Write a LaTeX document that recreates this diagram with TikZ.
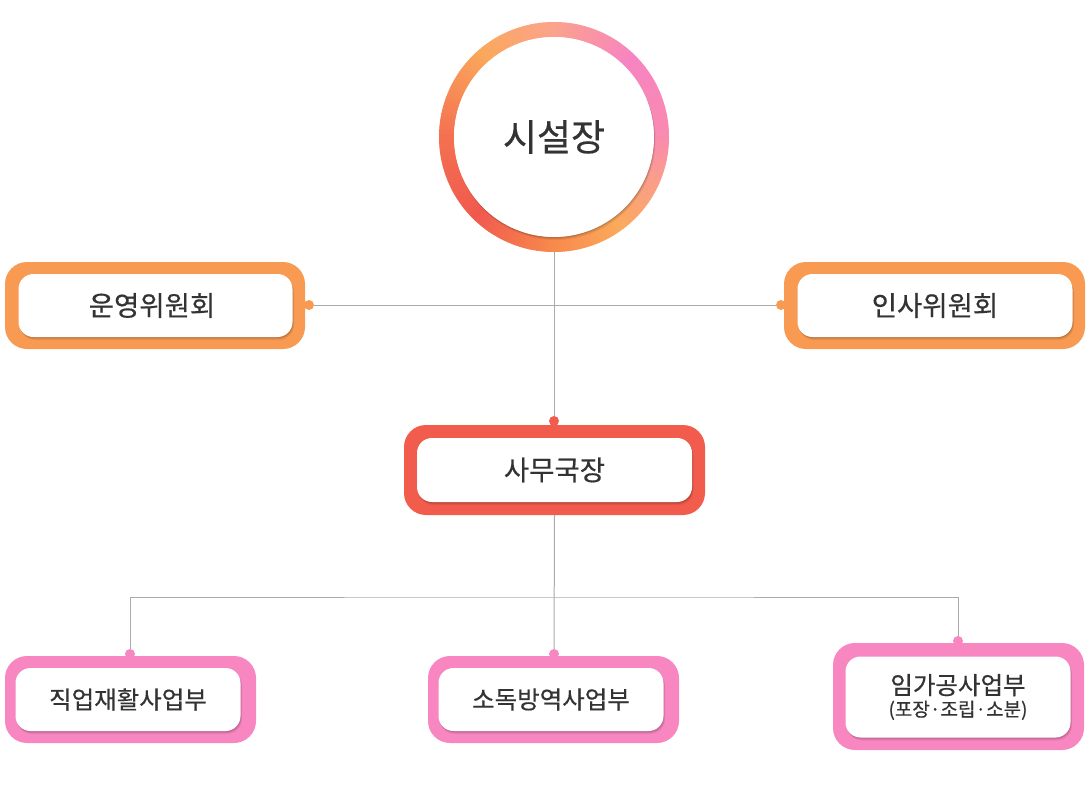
\documentclass[tikz,border=0pt]{standalone}
\usepackage{fontspec}
\setmainfont{Noto Sans CJK KR}[FakeBold=1.2]
\newfontfamily\medfont{Noto Sans CJK KR}[FakeBold=0.5]
\usetikzlibrary{shadows}
\definecolor{orgO}{HTML}{F99A52}
\definecolor{orgR}{HTML}{F25C4C}
\definecolor{orgP}{HTML}{F886C0}
\definecolor{lineg}{HTML}{ABABAB}
\definecolor{txt}{HTML}{333333}
\definecolor{rA}{HTML}{F98AB0}
\definecolor{rB}{HTML}{F784C2}
\definecolor{rC}{HTML}{FBA38C}
\definecolor{rD}{HTML}{FAA85C}
\definecolor{rE}{HTML}{F47050}
\definecolor{rF}{HTML}{F05A4E}
\definecolor{rG}{HTML}{F88A4C}
\definecolor{rH}{HTML}{FBAA5C}
\definecolor{rI}{HTML}{FA9C90}
\begin{document}
\begin{tikzpicture}[x=1pt,y=-1pt,
  softshadow/.style={
    drop shadow={shadow xshift=0.5pt, shadow yshift=-1pt, opacity=0.10, fill=black},
    drop shadow={shadow xshift=1pt, shadow yshift=-2pt, opacity=0.08, fill=black},
    drop shadow={shadow xshift=1.5pt, shadow yshift=-3pt, opacity=0.06, fill=black}},
  outer/.style={rounded corners=22pt, inner sep=0pt, fill=#1},
  inner/.style={rounded corners=15pt, fill=white, inner sep=0pt, text=txt, align=center, softshadow},
  dot/.style={circle, fill=#1, inner sep=0pt, minimum size=10pt},
  conn/.style={draw=lineg, line width=1pt},
  bigtxt/.style={font=\medfont\fontsize{27.5}{32}\selectfont},
  smalltxt/.style={font=\medfont\fontsize{24.5}{29}\selectfont}]
\useasboundingbox (0,0) rectangle (1090,800);

% helpers
\node[circle, minimum size=230pt, inner sep=0pt] (ring) at (554,137) {};
\coordinate (j) at (554,597);

% dots
\node[dot=orgO] (dL) at (309,305) {};
\node[dot=orgO] (dR) at (781,305) {};
\node[dot=orgR] (dM) at (554,421) {};
\node[dot=orgP] (d1) at (130,654) {};
\node[dot=orgP] (d2) at (554,654) {};
\node[dot=orgP] (d3) at (958,641) {};

% boxes
\node[outer=orgO, minimum width=300pt, minimum height=87pt] (opO) at (155,305.5) {};
\node[inner, bigtxt, minimum width=274pt, minimum height=63pt] (op) at (155.5,305.5) {};
\node[text=txt, bigtxt, inner sep=0pt] (opt) at (152,305.5) {운영위원회};
\node[outer=orgO, minimum width=301pt, minimum height=87pt] (hrO) at (934.5,305.5) {};
\node[inner, bigtxt, minimum width=275pt, minimum height=63pt] (hr) at (935,305.5) {인사위원회};
\node[outer=orgR, minimum width=301pt, minimum height=90pt] (saO) at (554.5,470) {};
\node[inner, bigtxt, minimum width=275pt, minimum height=64pt] (sa) at (554.5,470) {사무국장};
\node[outer=orgP, minimum width=251pt, minimum height=87pt] (b1O) at (130.5,699.5) {};
\node[inner, smalltxt, minimum width=225pt, minimum height=63pt] (b1) at (128,699.5) {직업재활사업부};
\node[outer=orgP, minimum width=251pt, minimum height=87pt] (b2O) at (553.5,699.5) {};
\node[inner, smalltxt, minimum width=225pt, minimum height=63pt] (b2) at (551,699.5) {소독방역사업부};
\node[outer=orgP, minimum width=251pt, minimum height=107pt] (b3O) at (958.5,696.5) {};
\node[inner, smalltxt, minimum width=225pt, minimum height=81pt] (b3) at (958,697)
  {임가공사업부\\[-7pt]{\fontsize{19}{22}\selectfont (포장·조립·소분)}};

% ring
\foreach \a/\b/\ca/\cb in {0/45/rA/rB,45/90/rB/rC,90/130/rC/rD,130/180/rD/rE,180/225/rE/rF,225/270/rF/rG,270/305/rG/rH,305/340/rH/rI,340/360/rI/rA}{
  \pgfmathtruncatemacro\e{\b-1}
  \foreach \x in {\a,...,\e}{
    \pgfmathsetmacro\p{100*(\x-\a)/(\b-\a)}
    \draw[line width=15pt, draw={\cb!\p!\ca}] ([shift={(\x:107.5pt)}]ring.center) arc[start angle=\x, delta angle=1.4, radius=107.5pt];
  }
}
\node[circle, fill=white, minimum size=200pt, inner sep=0pt, text=txt,
  font=\medfont\fontsize{37}{44}\selectfont, softshadow] (ceo) at (554,137) {시설장};

% connectors
\draw[conn] (ring.south) -- (dM);
\draw[conn] (dL) -- (dR);
\draw[conn] (saO.south) -- (d2);
\draw[conn] (d1) |- (j) -| (d3);
\end{tikzpicture}
\end{document}
